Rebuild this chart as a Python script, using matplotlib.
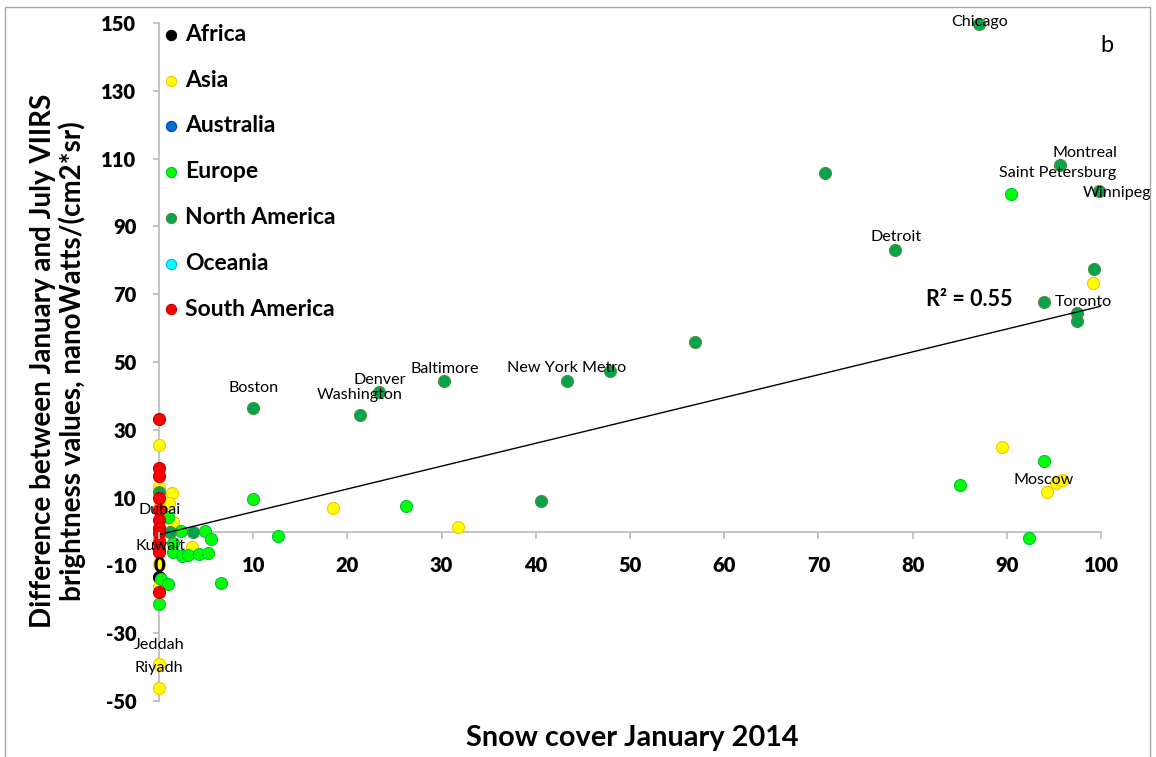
import numpy as np
import matplotlib.pyplot as plt
from matplotlib.patches import Rectangle

plt.rcParams['font.family'] = ['Lato', 'DejaVu Sans']
plt.rcParams['axes.unicode_minus'] = False

# Snow cover (%) vs. January-July VIIRS brightness difference, by continent
africa_x = [0.0]
africa_y = [-13.5]

asia_x = [99.2, 89.5, 94.3, 95.2, 95.9, 18.5, 31.7, 1.4, 1.1, 1.5, 3.5,
          0.0, 0.0, 0.0, 0.0, 0.0, 0.0, 0.0, 0.0, 0.0]
asia_y = [73.3, 25.0, 11.7, 14.4, 15.2, 6.8, 1.4, 11.3, 8.3, 2.9, -4.5,
          25.5, 13.0, 7.0, 0.8, -2.0, -9.5, -16.1, -39.1, -46.1]

australia_x = []
australia_y = []

europe_x = [90.4, 94.0, 85.0, 92.4, 10.0, 26.2, 12.6, 1.0, 2.3, 4.9, 5.5,
            1.5, 1.5, 2.4, 3.1, 4.2, 5.2, 0.2, 1.0, 0.0, 6.6]
europe_y = [99.6, 20.7, 13.8, -1.9, 9.7, 7.6, -1.3, 4.4, 0.1, 0.1, -2.3,
            -3.5, -6.0, -7.1, -6.9, -6.6, -6.4, -14.0, -15.5, -21.4, -15.3]

namerica_x = [87.0, 95.6, 99.8, 78.1, 99.3, 94.0, 97.4, 97.5, 70.7, 56.9,
              10.0, 21.3, 23.4, 30.3, 43.3, 47.9, 40.5, 1.2, 3.6, 0.0]
namerica_y = [149.7, 108.1, 100.5, 83.1, 77.3, 67.7, 64.4, 62.1, 105.7, 55.9,
              36.4, 34.4, 41.1, 44.3, 44.5, 47.4, 9.0, 0.0, -0.2, 11.7]

oceania_x = []
oceania_y = []

samerica_x = [0.0] * 12
samerica_y = [33.1, 18.6, 16.4, 9.8, 6.3, 3.4, 0.9, -0.5, -3.0, -5.5, -6.0, -17.8]

# labelled cities
cities = ['Chicago', 'Montreal', 'Saint Petersburg', 'Winnipeg', 'Detroit',
          'Toronto', 'Boston', 'Washington', 'Denver', 'Baltimore',
          'New York Metro', 'Moscow', 'Dubai', 'Kuwait', 'Jeddah', 'Riyadh']
city_x = [87.0, 95.6, 90.4, 99.8, 78.1, 97.4, 10.0, 21.3, 23.4, 30.3,
          43.3, 95.2, 0.0, 0.0, 0.0, 0.0]
city_y = [149.7, 108.1, 99.6, 100.5, 83.1, 64.4, 36.4, 34.4, 41.1, 44.3,
          44.5, 14.4, 0.8, -9.5, -39.1, -46.1]

r2_text = 'R² = 0.55'

series = [
    ('Africa', africa_x, africa_y, '#000000', '#000000'),
    ('Asia', asia_x, asia_y, '#FFFF00', '#FFC000'),
    ('Australia', australia_x, australia_y, '#0070C0', '#0033FF'),
    ('Europe', europe_x, europe_y, '#00FF00', '#00C040'),
    ('North America', namerica_x, namerica_y, '#00A550', '#5E8C3A'),
    ('Oceania', oceania_x, oceania_y, '#00FFFF', '#00B0F0'),
    ('South America', samerica_x, samerica_y, '#FF0000', '#C00000'),
]

# label offsets in points (dx, dy)
offsets = {
    'Chicago': (0.7, 1.4), 'Montreal': (18, 8.6), 'Saint Petersburg': (34, 15),
    'Winnipeg': (13, -1.4), 'Detroit': (0.7, 9.4), 'Toronto': (5, 8),
    'Boston': (0, 14.4), 'Washington': (0, 14.4), 'Denver': (0, 8.6),
    'Baltimore': (0, 8.6), 'New York Metro': (0, 9.4), 'Moscow': (-8.6, 2),
    'Dubai': (0.7, 13.7), 'Kuwait': (1.4, 13), 'Jeddah': (0, 13.7),
    'Riyadh': (0, 14.4),
}

fig = plt.figure(figsize=(11.56, 7.57), dpi=100)
ax = fig.add_axes([159 / 1156, 1 - 701 / 757, 942 / 1156, 678 / 757])

for name, xs, ys, fc, ec in series:
    ax.scatter(xs, ys, s=75, c=fc, edgecolors=ec, linewidths=0.8,
               label=name, zorder=3, clip_on=False)

# linear trend through all points
all_x = np.concatenate([np.asarray(s[1], float) for s in series])
all_y = np.concatenate([np.asarray(s[2], float) for s in series])
slope, intercept = np.polyfit(all_x, all_y, 1)
tx = np.array([0, 100])
ax.plot(tx, slope * tx + intercept, color='black', lw=1, zorder=4)

for name, x, y in zip(cities, city_x, city_y):
    ax.annotate(name, (x, y), xytext=offsets[name], textcoords='offset points',
                ha='center', va='center', fontsize=11.6, zorder=5,
                annotation_clip=False)

fig.text(926 / 1156, 1 - 300 / 757, r2_text, fontsize=15.5, fontweight='bold',
         ha='left', va='center')
ax.text(1.006, 0.967, 'b', transform=ax.transAxes, fontsize=17,
        ha='center', va='center')

ax.set_xlim(0, 100)
ax.set_ylim(-50, 150)
ax.set_xticks(np.arange(0, 101, 10))
ax.set_yticks(np.arange(-50, 151, 20))

ax.spines['top'].set_visible(False)
ax.spines['right'].set_visible(False)
ax.spines['bottom'].set_position(('data', 0))
for sp in ('left', 'bottom'):
    ax.spines[sp].set_color('#BFBFBF')
    ax.spines[sp].set_linewidth(1.3)
ax.spines['left'].set_zorder(2)
ax.xaxis.set_zorder(5)
ax.tick_params(axis='both', colors='#BFBFBF', width=1.3, labelcolor='black',
               labelsize=14.5)
ax.tick_params(axis='x', length=5, pad=13)
ax.tick_params(axis='y', length=4.3, pad=12)
for lab in ax.get_xticklabels() + ax.get_yticklabels():
    lab.set_fontweight('heavy')

fig.text(632 / 1156, 1 - 738 / 757, 'Snow cover January 2014', fontsize=20.8,
         fontweight='bold', ha='center', va='center')
fig.text(58 / 1156, 1 - 361 / 757,
         'Difference between January and July VIIRS\nbrightness values, nanoWatts/(cm2*sr)',
         rotation=90, fontsize=20, fontweight='bold', ha='center', va='center',
         multialignment='center', linespacing=1.1)

leg = ax.legend(loc='upper left', bbox_to_anchor=(6 / 942, 1 - 1 / 678),
                frameon=False, fontsize=16.5, borderpad=0, borderaxespad=0,
                handlelength=0.55, handletextpad=0.33, labelspacing=1.08,
                markerscale=0.85)
for t in leg.get_texts():
    t.set_fontweight('bold')

fig.patches.append(Rectangle((5 / 1156, -0.05), 1145 / 1156, 1.05 - 7 / 757,
                             transform=fig.transFigure, fill=False,
                             ec='#A6A6A6', lw=1))

fig.savefig('out.png', dpi=100)
